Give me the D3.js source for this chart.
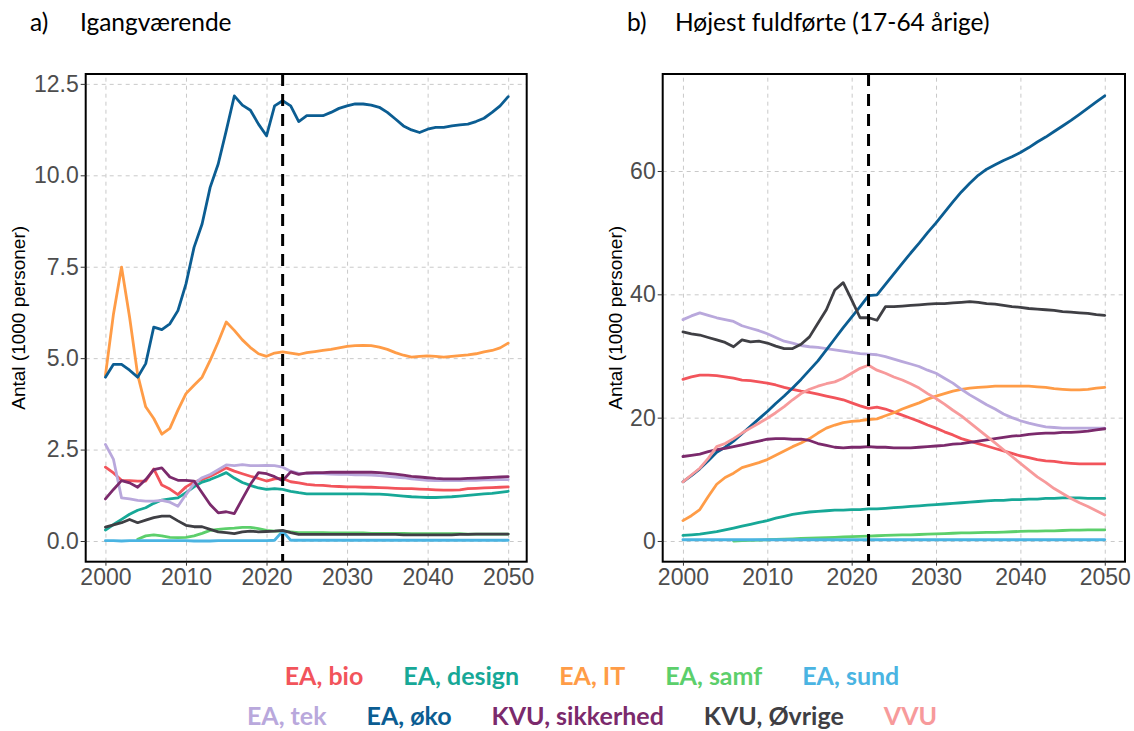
<!DOCTYPE html>
<html><head><meta charset="utf-8">
<script src="https://cdn.jsdelivr.net/npm/d3@7"></script>
<style>body{margin:0;background:#fff} svg{display:block}</style>
</head><body>
<svg id="c" width="1134" height="731"></svg>
<script>
// ---------- DATA ----------
const years = d3.range(2000, 2051);
const seriesNames = ["EA, bio","EA, design","EA, IT","EA, samf","EA, sund","EA, tek","EA, øko","KVU, sikkerhed","KVU, Øvrige","VVU"];
const seriesColors = ["#F2545B","#17A897","#FF9C47","#5CCF6B","#4AB4E2","#B9A8DC","#0B5D92","#7B2A6C","#3F3F44","#F79A9B"];

const xTicks = [2000,2010,2020,2030,2040,2050];
const aYTicks = [0,2.5,5,7.5,10,12.5];
const aYTickLabels = ["0.0","2.5","5.0","7.5","10.0","12.5"];
const bYTicks = [0,20,40,60];
const bYTickLabels = ["0","20","40","60"];
const forecastStart = 2022;

// Panel a) Igangværende (1000 persons), 2000..2050
const aBio = [2.02,1.86,1.66,1.65,1.64,1.64,1.97,1.53,1.42,1.27, 1.48,1.61,1.68,1.77,1.88,2.00,1.91,1.84,1.77,1.71, 1.64,1.70,1.71,1.62,1.59,1.55,1.53,1.52,1.50,1.49, 1.48,1.48,1.47,1.47,1.46,1.45,1.44,1.43,1.43,1.42, 1.41,1.40,1.39,1.39,1.40,1.43,1.44,1.45,1.46,1.47,1.48];
const aDesign = [0.30,0.45,0.59,0.73,0.84,0.91,1.03,1.12,1.15,1.18, 1.32,1.48,1.61,1.68,1.77,1.87,1.72,1.60,1.52,1.45, 1.41,1.43,1.41,1.36,1.32,1.29,1.29,1.29,1.29,1.29, 1.29,1.29,1.29,1.28,1.28,1.27,1.25,1.23,1.21,1.20, 1.19,1.19,1.20,1.21,1.23,1.25,1.27,1.29,1.30,1.33,1.36];
const aIT = [4.53,6.21,7.49,6.12,4.55,3.67,3.35,2.92,3.08,3.58, 4.03,4.26,4.48,4.94,5.44,5.99,5.76,5.50,5.29,5.12, 5.05,5.14,5.17,5.14,5.10,5.15,5.18,5.21,5.24,5.28, 5.32,5.34,5.35,5.34,5.30,5.24,5.15,5.08,5.03,5.05, 5.06,5.05,5.03,5.05,5.07,5.09,5.12,5.17,5.21,5.28,5.41];
const aSamf = [null,null,null,null,0.05,0.14,0.17,0.14,0.10,0.09, 0.10,0.14,0.21,0.29,0.32,0.34,0.35,0.37,0.37,0.34, 0.29,0.27,0.27,0.25,0.23,0.23,0.23,0.23,0.22,0.22, 0.22,0.22,0.22,0.21,0.21,0.21,0.21,0.21,0.20,0.20, 0.20,0.20,0.20,0.20,0.20,0.19,0.19,0.19,0.19,0.19,0.19];
const aSund = [0.01,0.01,0.00,0.01,0.01,0.01,0.01,0.01,0.01,0.01, 0.01,0.00,0.00,0.00,0.01,0.01,0.01,0.01,0.01,0.01, 0.01,0.02,0.27,0.02,0.02,0.02,0.02,0.02,0.02,0.02, 0.02,0.02,0.02,0.02,0.02,0.02,0.02,0.02,0.02,0.02, 0.02,0.02,0.02,0.02,0.02,0.02,0.02,0.02,0.02,0.02,0.02];
const aTek = [2.64,2.23,1.18,1.15,1.11,1.09,1.09,1.11,1.06,0.95, 1.27,1.57,1.73,1.82,1.95,2.08,2.06,2.09,2.06,2.06, 2.07,2.06,2.02,1.91,1.85,1.85,1.84,1.84,1.83,1.82, 1.82,1.81,1.81,1.80,1.79,1.77,1.75,1.73,1.70,1.68, 1.66,1.65,1.65,1.65,1.65,1.66,1.66,1.67,1.67,1.68,1.68];
const aOko = [4.48,4.83,4.83,4.67,4.48,4.85,5.85,5.78,5.94,6.30, 7.03,8.03,8.67,9.67,10.31,11.22,12.17,11.92,11.78,11.40, 11.08,11.90,12.04,11.90,11.47,11.63,11.63,11.63,11.72,11.83, 11.90,11.95,11.95,11.92,11.86,11.72,11.54,11.35,11.24,11.17, 11.26,11.31,11.31,11.35,11.38,11.40,11.47,11.56,11.72,11.90,12.15];
const aSik = [1.15,1.41,1.65,1.59,1.47,1.68,1.95,2.00,1.75,1.66, 1.66,1.64,1.32,1.00,0.77,0.80,0.75,1.15,1.55,1.87, 1.84,1.76,1.65,1.89,1.82,1.86,1.87,1.87,1.88,1.88, 1.88,1.88,1.88,1.88,1.87,1.85,1.83,1.80,1.77,1.75, 1.73,1.71,1.70,1.70,1.70,1.71,1.72,1.73,1.74,1.75,1.76];
const aOvr = [0.38,0.44,0.50,0.59,0.50,0.57,0.64,0.68,0.68,0.55, 0.43,0.39,0.39,0.32,0.25,0.23,0.20,0.25,0.27,0.25, 0.26,0.27,0.29,0.23,0.18,0.18,0.18,0.18,0.18,0.18, 0.18,0.18,0.18,0.18,0.18,0.18,0.18,0.17,0.17,0.17, 0.17,0.17,0.17,0.17,0.18,0.18,0.19,0.19,0.19,0.19,0.19];
const aVVU = null; // not shown in panel a

// Panel b) Højest fuldførte (1000 persons), 2000..2050
const bBio = [26.2,26.6,26.9,26.9,26.8,26.6,26.4,26.1,26.0,25.8, 25.6,25.3,24.9,24.6,24.3,24.1,23.8,23.5,23.2,22.9, 22.4,21.9,21.5,21.7,21.4,20.9,20.4,19.9,19.4,18.8, 18.3,17.7,17.2,16.6,16.2,15.8,15.4,15.0,14.6,14.2, 13.8,13.5,13.2,13.0,12.9,12.7,12.6,12.5,12.5,12.5,12.5];
const bDesign = [0.9,1.0,1.1,1.3,1.5,1.8,2.1,2.4,2.7,3.0, 3.3,3.7,4.0,4.3,4.5,4.7,4.8,4.9,5.0,5.0, 5.1,5.1,5.2,5.2,5.3,5.4,5.5,5.6,5.7,5.8, 5.9,6.0,6.1,6.2,6.3,6.4,6.5,6.6,6.6,6.7, 6.7,6.8,6.8,6.9,6.9,7.0,7.0,7.0,6.9,6.9,6.9];
const bIT = [3.3,4.1,5.1,7.2,9.2,10.3,11.0,11.9,12.3,12.7, 13.2,13.9,14.6,15.3,15.9,16.6,17.5,18.3,18.8,19.2, 19.4,19.5,19.7,19.8,20.3,20.8,21.4,21.9,22.4,23.0, 23.5,23.9,24.3,24.6,24.8,24.9,25.0,25.1,25.1,25.1, 25.1,25.1,25.0,24.9,24.7,24.6,24.5,24.5,24.6,24.8,24.9];
const bSamf = [null,null,null,null,null,null,0.0,0.05,0.1,0.15, 0.2,0.25,0.3,0.35,0.4,0.45,0.5,0.55,0.6,0.65, 0.7,0.75,0.8,0.85,0.9,0.95,1.0,1.0,1.05,1.1, 1.15,1.2,1.25,1.3,1.3,1.35,1.4,1.4,1.45,1.5, 1.55,1.6,1.6,1.65,1.65,1.7,1.75,1.75,1.8,1.8,1.8];
const bSund = [0.2,0.2,0.2,0.2,0.2,0.2,0.2,0.2,0.2,0.2, 0.2,0.2,0.2,0.2,0.2,0.2,0.2,0.2,0.2,0.2, 0.2,0.2,0.2,0.2,0.2,0.2,0.2,0.2,0.2,0.2, 0.2,0.2,0.2,0.2,0.2,0.2,0.2,0.2,0.2,0.2, 0.2,0.2,0.2,0.2,0.2,0.2,0.2,0.2,0.2,0.2,0.2];
const bTek = [35.9,36.5,37.0,36.6,36.2,35.9,35.6,34.9,34.5,34.1, 33.6,33.0,32.4,32.1,31.7,31.5,31.4,31.2,31.0,30.8, 30.6,30.4,30.3,30.2,29.9,29.5,29.1,28.7,28.3,27.7, 27.2,26.4,25.6,24.6,23.7,22.9,22.1,21.4,20.6,20.0, 19.5,19.1,18.8,18.5,18.4,18.3,18.3,18.3,18.3,18.3,18.3];
const bOko = [9.6,10.6,11.7,13.0,14.4,15.2,16.2,17.4,18.6,19.8, 21.0,22.3,23.5,24.8,26.2,27.7,29.2,31.0,32.8,34.6, 36.3,38.0,39.8,39.9,41.6,43.3,45.0,46.7,48.3,50.0, 51.6,53.3,55.0,56.6,58.0,59.3,60.3,61.0,61.7,62.3, 63.0,63.8,64.7,65.5,66.4,67.3,68.2,69.2,70.2,71.2,72.2];
const bSik = [13.7,13.9,14.1,14.5,14.8,15.0,15.3,15.6,15.9,16.2, 16.5,16.6,16.6,16.5,16.5,16.3,15.8,15.5,15.2,15.1, 15.2,15.2,15.3,15.2,15.2,15.1,15.1,15.1,15.2,15.3, 15.4,15.5,15.7,15.8,16.0,16.2,16.4,16.6,16.8,17.0, 17.1,17.3,17.4,17.5,17.5,17.6,17.6,17.7,17.8,18.0,18.2];
const bOvr = [33.9,33.6,33.4,33.0,32.6,32.2,31.5,32.6,32.3,32.4, 32.1,31.6,31.2,31.2,31.9,33.1,35.3,37.5,40.7,41.9, 39.1,36.2,36.2,35.8,38.0,38.0,38.1,38.2,38.3,38.4, 38.5,38.5,38.6,38.7,38.8,38.7,38.5,38.4,38.2,38.0, 37.9,37.7,37.6,37.5,37.4,37.2,37.1,37.0,36.9,36.7,36.6];
const bVVU = [9.6,10.7,11.8,13.4,15.3,15.8,16.6,17.5,18.3,19.1, 19.9,20.8,21.8,22.9,23.9,24.6,25.1,25.5,25.8,26.4, 27.2,28.0,28.5,27.7,27.2,26.6,26.1,25.5,24.8,23.9, 23.1,22.2,21.2,20.3,19.2,18.1,17.0,15.9,14.8,13.7, 12.6,11.5,10.4,9.5,8.5,7.7,6.9,6.2,5.6,4.9,4.2];

const panelA = [aBio,aDesign,aIT,aSamf,aSund,aTek,aOko,aSik,aOvr,aVVU];
const panelB = [bBio,bDesign,bIT,bSamf,bSund,bTek,bOko,bSik,bOvr,bVVU];

// ---------- DRAW ----------
const svg = d3.select("#c");
const tickFont = "'Liberation Sans', Arial, sans-serif";
const titleFont = "Lato, 'Noto Sans', sans-serif";

function drawPanel(cfg) {
  const x = d3.scaleLinear().domain(cfg.xDomain).range([cfg.left, cfg.right]);
  const y = d3.scaleLinear().domain(cfg.yDomain).range([cfg.bottom, cfg.top]);
  const g = svg.append("g");

  // grid
  const gx = g.append("g").attr("transform", `translate(0,${cfg.bottom})`)
    .call(d3.axisBottom(x).tickValues(xTicks).tickSize(-(cfg.bottom - cfg.top)).tickFormat(""));
  const gy = g.append("g").attr("transform", `translate(${cfg.left},0)`)
    .call(d3.axisLeft(y).tickValues(cfg.yTicks).tickSize(-(cfg.right - cfg.left)).tickFormat(""));
  [gx, gy].forEach(a => {
    a.select(".domain").remove();
    a.selectAll("line").attr("stroke", "#c9c9c9").attr("stroke-width", 1).attr("stroke-dasharray", "4,4");
  });

  // lines
  const line = d3.line().defined(d => d.v != null).x(d => x(d.yr)).y(d => y(d.v));
  cfg.data.forEach((arr, i) => {
    if (!arr) return;
    const pts = years.map((yr, j) => ({yr, v: arr[j]}));
    g.append("path").datum(pts).attr("d", line)
      .attr("fill", "none").attr("stroke", seriesColors[i])
      .attr("stroke-width", 2.8).attr("stroke-linejoin", "round").attr("stroke-linecap", "round");
  });

  // forecast line
  g.append("line").attr("x1", x(forecastStart)).attr("x2", x(forecastStart))
    .attr("y1", cfg.top).attr("y2", cfg.bottom)
    .attr("stroke", "#000").attr("stroke-width", 3).attr("stroke-dasharray", "12,8");

  // frame
  g.append("rect").attr("x", cfg.left).attr("y", cfg.top)
    .attr("width", cfg.right - cfg.left).attr("height", cfg.bottom - cfg.top)
    .attr("fill", "none").attr("stroke", "#000").attr("stroke-width", 2);

  // axes
  const ax = g.append("g").attr("transform", `translate(0,${cfg.bottom})`)
    .call(d3.axisBottom(x).tickValues(xTicks).tickFormat(d3.format("d")).tickSize(4).tickPadding(3));
  const ay = g.append("g").attr("transform", `translate(${cfg.left},0)`)
    .call(d3.axisLeft(y).tickValues(cfg.yTicks).tickFormat((d, i) => cfg.yLabels[i]).tickSize(5).tickPadding(2));
  [ax, ay].forEach(a => {
    a.select(".domain").remove();
    a.selectAll("line").attr("stroke", "#333");
    a.selectAll("text").attr("fill", "#4d4d4d").style("font-family", tickFont).style("font-size", "23px");
  });

  // y title
  g.append("text").attr("transform", `translate(${cfg.titleX},${(cfg.top + cfg.bottom) / 2}) rotate(-90)`)
    .attr("text-anchor", "middle").style("font-family", tickFont).style("font-size", "19px")
    .attr("fill", "#000").text("Antal (1000 personer)");

  // panel title
  g.append("text").attr("x", cfg.labX).attr("y", 31).style("font-family", titleFont)
    .style("font-size", "24.5px").attr("fill", "#000").text(cfg.lab);
  g.append("text").attr("x", cfg.headX).attr("y", 31).style("font-family", titleFont)
    .style("font-size", "24.5px").attr("fill", "#000").text(cfg.head);
}

drawPanel({left: 85.7, right: 526.7, top: 74, bottom: 561.7,
  xDomain: [1997.55, 2052.3], yDomain: [-0.566, 12.77],
  yTicks: aYTicks, yLabels: aYTickLabels, data: panelA, titleX: 25,
  lab: "a)", labX: 30, head: "Igangværende", headX: 80});
drawPanel({left: 662.7, right: 1125, top: 74, bottom: 561.7,
  xDomain: [1997.6, 2052.4], yDomain: [-3.36, 75.73],
  yTicks: bYTicks, yLabels: bYTickLabels, data: panelB, titleX: 622,
  lab: "b)", labX: 627, head: "Højest fuldførte (17-64 årige)", headX: 675});

// legend
const rows = [[0,1,2,3,4],[5,6,7,8,9]];
const rowY = [685, 725];
const gap = 40, centerX = 592;
rows.forEach((row, r) => {
  const lg = svg.append("g");
  const texts = row.map(i => lg.append("text").attr("y", rowY[r])
    .style("font-family", titleFont).style("font-size", "25px").style("font-weight", "700")
    .attr("fill", seriesColors[i]).text(seriesNames[i]));
  const widths = texts.map(t => t.node().getComputedTextLength());
  const total = d3.sum(widths) + gap * (row.length - 1);
  let cx = centerX - total / 2;
  texts.forEach((t, k) => { t.attr("x", cx); cx += widths[k] + gap; });
});
</script>
</body></html>
